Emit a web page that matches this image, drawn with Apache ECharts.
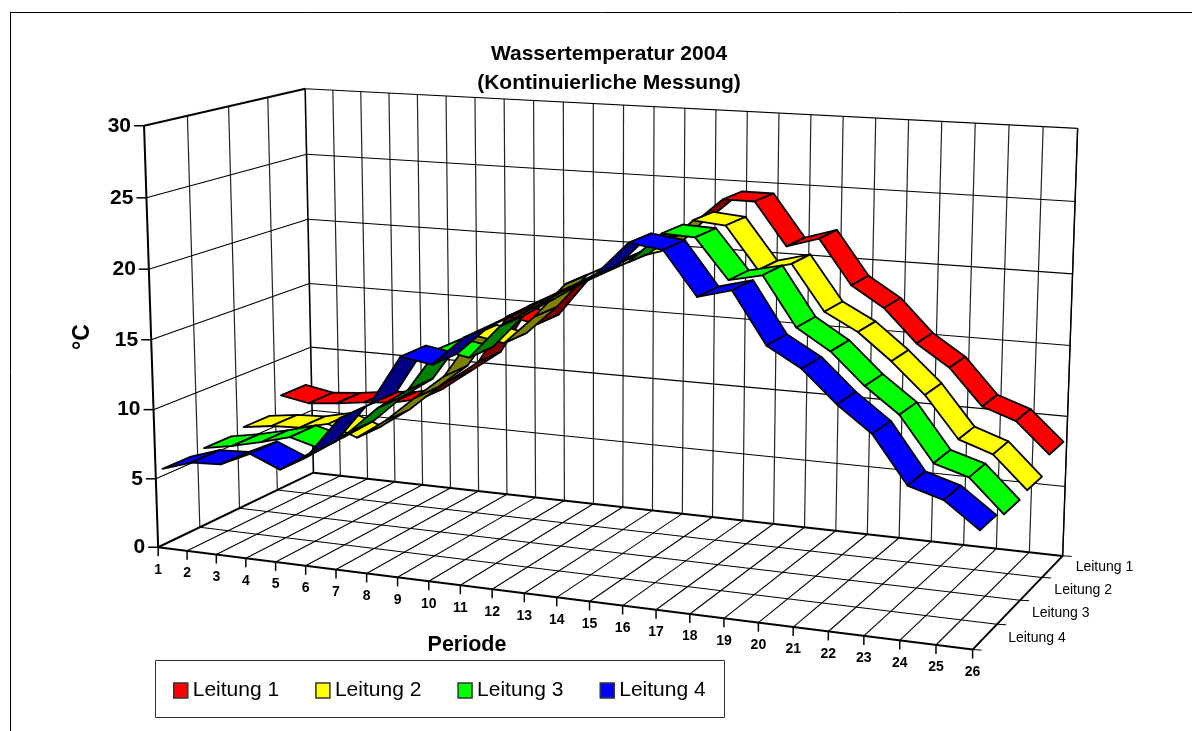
<!DOCTYPE html>
<html><head><meta charset="utf-8">
<style>html,body{margin:0;padding:0;background:#fff}#c{width:1192px;height:731px}</style>
<script src="https://cdn.jsdelivr.net/npm/echarts@6/dist/echarts.min.js"></script>
</head><body><div id="c"></div>
<script>
const periods = ['1','2','3','4','5','6','7','8','9','10','11','12','13','14','15','16','17','18','19','20','21','22','23','24','25','26'];
const lanes = ['Leitung 1','Leitung 2','Leitung 3','Leitung 4'];
const valueTicks = [0,5,10,15,20,25,30];
const leitung1 = [7.2,6.8,7,7.3,7.5,8,9.6,11.2,14.8,14.4,17.2,18.5,19.8,21,22.4,24.4,24.4,21.4,22.1,19,17.6,15.3,13.8,11.3,10.5,8.4];
const leitung2 = [6,6.3,6.4,6.9,6.1,7.6,9.5,11.3,14.5,14.1,16.2,18.7,19.8,20.8,21.5,23.8,23.6,20.7,21.3,18.2,17,15.2,13.1,10.3,9.5,7.3];
const leitung3 = [5.7,6.1,6.6,7.2,6.6,8,10,11.5,14.6,14.2,16.6,18,19.4,20.6,21.7,23.8,23.7,21,21.5,18.2,16.8,14.7,13,10,9.3,7.1];
const leitung4 = [5.5,6.2,6.3,7.3,6.4,7.8,10.5,11.7,15.2,14.85,16.9,18.1,19.4,20.6,21.8,24.1,23.8,20.9,21.5,18.1,16.8,14.7,13,9.9,9.2,7.5];
const brightColors = ['#ff0000','#ffff00','#00ff00','#0000ff'];
const darkColors = ['#800000','#808000','#008000','#000080'];
const seriesValues = [leitung1,leitung2,leitung3,leitung4];

// perspective of the box: (u period, v depth, w height) -> screen
const anchors = [
 [0,0,0,158.3,547.3],[1,0,0,972.7,649.3],[0,1,0,313,472.7],[1,1,0,1062.7,556],
 [0,0,1,144,125.7],[0,1,1,305,89],[1,1,1,1077.6,128],
 [0,0,.5,151,340],[0,1,.5,310,283],[1,1,.5,1070,346]
];
function solveProjection(){
  const A=[],b=[];
  anchors.forEach(([u,v,w,x,y])=>{
    A.push([u,v,w,1,0,0,0,0,-x*u,-x*v,-x*w]);b.push(x);
    A.push([0,0,0,0,u,v,w,1,-y*u,-y*v,-y*w]);b.push(y);
  });
  const n=11,M=[];
  for(let i=0;i<n;i++){M.push(new Array(n+1).fill(0));
    for(let j=0;j<n;j++)for(let k=0;k<A.length;k++)M[i][j]+=A[k][i]*A[k][j];
    for(let k=0;k<A.length;k++)M[i][n]+=A[k][i]*b[k];}
  for(let i=0;i<n;i++){let p=i;for(let r=i+1;r<n;r++)if(Math.abs(M[r][i])>Math.abs(M[p][i]))p=r;
    [M[i],M[p]]=[M[p],M[i]];
    for(let r=0;r<n;r++)if(r!==i){const f=M[r][i]/M[i][i];for(let c=i;c<=n;c++)M[r][c]-=f*M[i][c];}}
  return M.map((row,i)=>row[n]/row[i]);
}
const H=solveProjection();
function proj(u,v,w){
  const d=H[8]*u+H[9]*v+H[10]*w+1;
  return [(H[0]*u+H[1]*v+H[2]*w+H[3])/d,(H[4]*u+H[5]*v+H[6]*w+H[7])/d];
}
const W=1192,Ht=731,laneHalf=0.085;
// go through the axes scales: period and temperature -> normalised box coordinates
function norm(api,periodIndex,value){
  const c=api.coord([periodIndex,value]);
  return [c[0]/W,1-c[1]/Ht];
}
function line(a,b,width,color){
  return {type:'line',shape:{x1:a[0],y1:a[1],x2:b[0],y2:b[1]},style:{stroke:color||'#000',lineWidth:width||1},silent:true};
}
function text(x,y,s,font,align,rot){
  return {type:'text',x:x,y:y,rotation:rot||0,style:{text:s,font:font,fill:'#000',textAlign:align||'center',textVerticalAlign:'middle'},silent:true};
}
function renderFrame(params,api){
  const ch=[];
  const last=periods.length-1;
  const U=i=>norm(api,i,0)[0];
  const Wv=t=>norm(api,0,t)[1];
  // floor
  for(let i=0;i<=last;i++){
    if(i>0&&i<last)ch.push(line(proj(U(i),0,0),proj(U(i),1,0),1.1));
  }
  for(let l=1;l<lanes.length;l++)ch.push(line(proj(0,l/4,0),proj(1,l/4,0),1.1));
  // back wall
  for(let i=0;i<=last;i++)ch.push(line(proj(U(i),1,0),proj(U(i),1,1),i===0?1.6:1.2,i===0?'#000':'#222'));
  valueTicks.forEach((t,k)=>{ch.push(line(proj(0,1,Wv(t)),proj(1,1,Wv(t)),k===0?2:1.1));});
  // left wall
  for(let l=1;l<lanes.length;l++)ch.push(line(proj(0,l/4,0),proj(0,l/4,1),1.2,'#222'));
  valueTicks.forEach((t,k)=>{ if(k>0)ch.push(line(proj(0,0,Wv(t)),proj(0,1,Wv(t)),k===6?2:1.1));});
  // right wall edge
  ch.push(line(proj(1,1,0),proj(1,1,1),1.4));
  // axes
  ch.push(line(proj(0,0,0),proj(0,0,1),2,'#000'));
  ch.push(line(proj(0,0,0),proj(1,0,0),2,'#000'));
  ch.push(line(proj(1,0,0),proj(1,1,0),2,'#000'));
  ch.push(line(proj(0,0,0),proj(0,1,0),2,'#000'));
  // value axis ticks+labels
  valueTicks.forEach(t=>{
    const p=proj(0,0,Wv(t));
    ch.push(line([p[0]-10,p[1]],p,1.5,'#000'));
    ch.push(text(p[0]-13,p[1],String(t),'bold 21px "Liberation Sans"','right'));
  });
  // period ticks+labels
  periods.forEach((s,i)=>{
    const p=proj(U(i),0,0);
    ch.push(line(p,[p[0],p[1]+9],1.5,'#000'));
    ch.push(text(p[0],p[1]+22.5,s,'bold 14px "Liberation Sans"','center'));
  });
  // depth ticks+labels
  for(let l=0;l<=lanes.length;l++){
    const p=proj(1,l/4,0);
    ch.push(line(p,[p[0]+9,p[1]+.5],1,'#000'));
  }
  lanes.forEach((s,l)=>{
    const p=proj(1,1-(l+.5)/4,0);
    ch.push(text(p[0]+52,p[1]+1,s,'14px "Liberation Sans"','center'));
  });
  return {type:'group',children:ch};
}
function ribbon(laneIdx){
  return function(params,api){
    const i=params.dataIndex;
    if(i>=periods.length-1)return null;
    const vc=1-(laneIdx+.5)/4;
    const a=norm(api,api.value(0,i),api.value(1,i));
    const b=norm(api,api.value(0,i+1),api.value(1,i+1));
    const pts=[proj(a[0],vc-laneHalf,a[1]),proj(a[0],vc+laneHalf,a[1]),proj(b[0],vc+laneHalf,b[1]),proj(b[0],vc-laneHalf,b[1])];
    let area=0;
    for(let k=0;k<4;k++){const p=pts[k],q=pts[(k+1)%4];area+=p[0]*q[1]-q[0]*p[1];}
    return {type:'polygon',shape:{points:pts},style:{fill:area>0?brightColors[laneIdx]:darkColors[laneIdx],stroke:'#000',lineWidth:1.8,lineJoin:'round'},silent:true};
  };
}
const chart=echarts.init(document.getElementById('c'),null,{renderer:'canvas',width:W,height:Ht});
chart.setOption({
  animation:false,
  backgroundColor:'#fff',
  title:{text:'Wassertemperatur 2004\n(Kontinuierliche Messung)',left:604,top:35,textAlign:'center',
    textStyle:{fontFamily:'Liberation Sans',fontWeight:'bold',fontSize:21,lineHeight:29,color:'#000'}},
  grid:{left:0,top:0,width:W,height:Ht,show:false},
  xAxis:{type:'category',data:periods,boundaryGap:false,show:false},
  yAxis:{type:'value',min:0,max:30,interval:5,show:false},
  legend:{data:lanes,left:173,top:680,padding:0,icon:'rect',itemWidth:14,itemHeight:15,itemGap:36,
    selectedMode:false,
    itemStyle:{borderColor:'#333',borderWidth:1.5},
    textStyle:{fontFamily:'Liberation Sans',fontSize:21,color:'#000'}},
  graphic:[
    {type:'line',shape:{x1:10.5,y1:12.5,x2:1192,y2:12.5},style:{stroke:'#000',lineWidth:1},z:-1},
    {type:'line',shape:{x1:10.5,y1:12,x2:10.5,y2:731},style:{stroke:'#000',lineWidth:1},z:-1},
    {type:'rect',shape:{x:155.5,y:660.5,width:569,height:57},style:{fill:'#fff',stroke:'#333',lineWidth:1},z:-1},
    {type:'text',x:83,y:337,rotation:Math.PI/2,style:{text:'°C',font:'bold 23px "Liberation Sans"',fill:'#000',textAlign:'center',textVerticalAlign:'middle'}},
    {type:'text',x:467,y:645,style:{text:'Periode',font:'bold 21.5px "Liberation Sans"',fill:'#000',textAlign:'center',textVerticalAlign:'middle'}}
  ],
  series:[
    {type:'custom',name:'Raster',coordinateSystem:'cartesian2d',clip:false,silent:true,encode:{x:0,y:1},data:[[0,0]],renderItem:renderFrame,z:1},
    ...lanes.map((name,l)=>({type:'custom',name:name,coordinateSystem:'cartesian2d',clip:false,silent:true,
      encode:{x:0,y:1},itemStyle:{color:brightColors[l]},z:2+l,
      data:seriesValues[l].map((v,i)=>[i,v]),renderItem:ribbon(l)}))
  ]
});
</script></body></html>
